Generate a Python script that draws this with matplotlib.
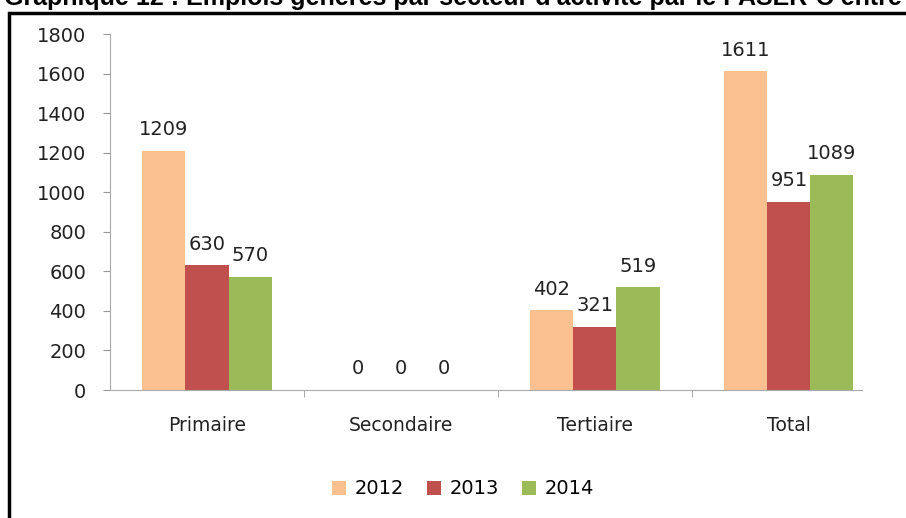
import matplotlib.pyplot as plt
from matplotlib.patches import Rectangle
import numpy as np

plt.rcParams['font.family'] = ['DejaVu Sans']

secteurs = ['Primaire', 'Secondaire', 'Tertiaire', 'Total']
annees = ['2012', '2013', '2014']
v2012 = [1209, 0, 402, 1611]
v2013 = [630, 0, 321, 951]
v2014 = [570, 0, 519, 1089]
couleurs = ['#FAC090', '#C0504D', '#9BBB59']

W, H = 906, 518
fig = plt.figure(figsize=(W / 100, H / 100), dpi=100)

# cadre noir autour du graphique (coupe en haut et a droite)
fig.patches.append(Rectangle((9 / W, -0.1), 2.0, 1.1 - 13 / H, transform=fig.transFigure,
                             fill=False, edgecolor='black', linewidth=2.5))
fig.text(4 / W, 1 - 5 / H, "Graphique 12 : Emplois générés par secteur d'activité par le PASER-C entre",
         fontsize=18, fontweight='bold', family='Liberation Sans', va='baseline', ha='left')

ax = fig.add_axes([110 / W, 128 / H, (862 - 110) / W, (390 - 34) / H])

x = np.arange(len(secteurs))
bw = 0.222
for i, (vals, lab, c) in enumerate(zip([v2012, v2013, v2014], annees, couleurs)):
    bars = ax.bar(x + (i - 1) * bw, vals, bw, color=c, label=lab)
    for b, v in zip(bars, vals):
        ax.annotate(str(v), (b.get_x() + b.get_width() / 2, v), xytext=(0, 8.5),
                    textcoords='offset points', ha='center', va='bottom',
                    fontsize=14, color='#222222')

ax.set_ylim(0, 1800)
ax.set_yticks(range(0, 1801, 200))
ax.set_xlim(-0.5, 3.377)
ax.set_xticks(x)
ax.set_xticklabels(secteurs, fontsize=13.5, color='#222222')
ax.set_xticks([0.5, 1.5, 2.5], minor=True)
ax.tick_params(axis='x', which='major', length=0, pad=19)
ax.tick_params(axis='x', which='minor', length=5, color='#999999')
ax.tick_params(axis='y', labelsize=14, length=5, color='#999999', labelcolor='#222222', pad=12)

for s in ['top', 'right']:
    ax.spines[s].set_visible(False)
for s in ['left', 'bottom']:
    ax.spines[s].set_color('#aaaaaa')

ax.legend(loc='center', bbox_to_anchor=(463 / W, 29 / H), bbox_transform=fig.transFigure,
          ncol=3, frameon=False, fontsize=14, handlelength=0.7, handleheight=0.7,
          handletextpad=0.45, columnspacing=1.2)

fig.savefig('out.png', dpi=100)
